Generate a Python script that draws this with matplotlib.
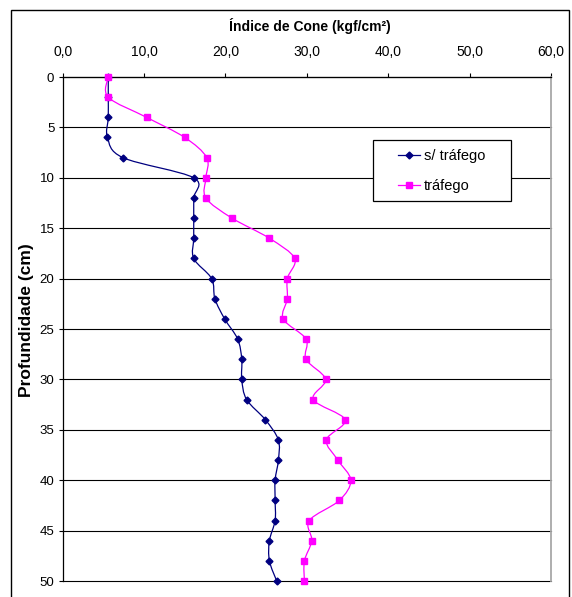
import numpy as np
import matplotlib.pyplot as plt
from matplotlib.path import Path
from matplotlib.patches import PathPatch, Rectangle
from matplotlib.lines import Line2D

plt.rcParams['font.family'] = ['Liberation Sans', 'DejaVu Sans']

# Profundidade (cm) e índice de cone (kgf/cm²)
profundidade = [0, 2, 4, 6, 8, 10, 12, 14, 16, 18, 20, 22, 24, 26, 28, 30,
                32, 34, 36, 38, 40, 42, 44, 46, 48, 50]
sem_trafego = [5.6, 5.6, 5.6, 5.5, 7.4, 16.1, 16.1, 16.1, 16.1, 16.1, 18.3, 18.7,
               19.9, 21.5, 22.0, 22.0, 22.6, 24.9, 26.5, 26.5, 26.1, 26.1, 26.1,
               25.4, 25.4, 26.3]
trafego = [5.6, 5.6, 10.3, 15.0, 17.7, 17.6, 17.6, 20.8, 25.4, 28.5, 27.6, 27.6,
           27.1, 29.9, 29.9, 32.3, 30.8, 34.7, 32.4, 33.8, 35.4, 34.0, 30.3,
           30.6, 29.7, 29.7]

x_ticks = [0, 10, 20, 30, 40, 50, 60]
y_ticks = [0, 5, 10, 15, 20, 25, 30, 35, 40, 45, 50]

AZUL = '#000080'
ROSA = '#FF00FF'


def curva_suave(x, y):
    # linha suavizada (Bezier tipo Catmull-Rom) passando pelos pontos
    pts = np.column_stack([x, y]).astype(float)
    n = len(pts)
    verts = [pts[0]]
    codes = [Path.MOVETO]
    for i in range(n - 1):
        p0 = pts[i - 1] if i > 0 else pts[i]
        p1 = pts[i]
        p2 = pts[i + 1]
        p3 = pts[i + 2] if i + 2 < n else pts[i + 1]
        verts += [p1 + (p2 - p0) / 6, p2 - (p3 - p1) / 6, p2]
        codes += [Path.CURVE4] * 3
    return Path(verts, codes)


W, H = 572, 597
fig = plt.figure(figsize=(W / 100, H / 100), dpi=100)
ax = fig.add_axes([62.7 / W, 1 - 581 / H, (551 - 62.7) / W, (581 - 77) / H])

# moldura externa do gráfico
fig.patches.append(Rectangle((11 / W, -0.1), 558 / W, 1.1 - 10 / H,
                             transform=fig.transFigure, fill=False,
                             edgecolor='black', lw=1.0))

for serie, cor, marc, ms in [(sem_trafego, AZUL, 'D', 3.5), (trafego, ROSA, 's', 4.3)]:
    ax.add_patch(PathPatch(curva_suave(serie, profundidade), fill=False,
                           edgecolor=cor, lw=0.9, zorder=3))
    ax.plot(serie, profundidade, linestyle='none', marker=marc, ms=ms,
            color=cor, mec=cor, zorder=4, clip_on=False)

ax.set_xlim(0, 60)
ax.set_ylim(50, 0)
ax.xaxis.tick_top()
ax.set_xticks(x_ticks)
ax.set_xticklabels([f'{v:.1f}'.replace('.', ',') for v in x_ticks])
ax.set_yticks(y_ticks)
ax.tick_params(axis='x', direction='out', length=3, width=0.8, pad=10, labelsize=10)
ax.tick_params(axis='y', direction='out', length=3, width=0.8, pad=3, labelsize=9.5)

ax.yaxis.grid(True, color='black', lw=0.8)
for gl in ax.get_ygridlines():
    gl.set_clip_on(False)
ax.set_axisbelow(True)
ax.spines['bottom'].set_visible(False)
ax.spines['left'].set_color('black')
ax.spines['top'].set_color('black')
ax.spines['left'].set_linewidth(0.9)
ax.spines['top'].set_linewidth(0.9)
ax.spines['right'].set_color('#a8a8a8')
ax.spines['right'].set_linewidth(1.3)

fig.text(310 / W, 1 - 26 / H, 'Índice de Cone (kgf/cm²)', ha='center', va='center',
         fontsize=10, fontweight='bold')
fig.text(27 / W, 1 - 320 / H, 'Profundidade (cm)', ha='center', va='center',
         rotation=90, fontsize=12.5, fontweight='bold')

# caixa da legenda
ax.add_patch(Rectangle((372.7 / W, 1 - 201 / H), 138 / W, 61 / H,
                       transform=fig.transFigure, facecolor='white',
                       edgecolor='black', lw=0.9, zorder=5))
handles = [Line2D([], [], color=AZUL, marker='D', ms=3.5, lw=0.9),
           Line2D([], [], color=ROSA, marker='s', ms=4.3, lw=0.9)]
leg = fig.legend(handles, ['s/ tráfego', 'tráfego'], loc='center',
                 bbox_to_anchor=(441.7 / W, 1 - 171 / H), frameon=False,
                 fontsize=10.5, handlelength=1.5, handletextpad=0.3,
                 labelspacing=1.1)
leg.set_zorder(6)

fig.savefig('out.png', dpi=100)
